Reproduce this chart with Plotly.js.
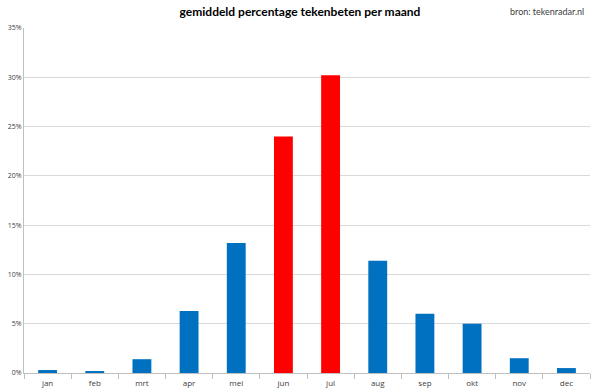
<!DOCTYPE html>
<html>
<head>
<meta charset="utf-8">
<script src="https://cdn.plot.ly/plotly-3.0.1.min.js"></script>
<style>html,body{margin:0;padding:0;background:#fff;}#chart{width:600px;height:391px;}</style>
</head>
<body>
<div id="chart"></div>
<script>
const months = ["jan","feb","mrt","apr","mei","jun","jul","aug","sep","okt","nov","dec"];
const percentages = [0.3, 0.2, 1.4, 6.3, 13.2, 24.0, 30.2, 11.4, 6.0, 5.0, 1.5, 0.5];
const barColors = ["#0070C0","#0070C0","#0070C0","#0070C0","#0070C0","#FF0000","#FF0000","#0070C0","#0070C0","#0070C0","#0070C0","#0070C0"];
const yTicks = [0,5,10,15,20,25,30,35];
const yTickLabels = ["0%","5%","10%","15%","20%","25%","30%","35%"];
const titleText = "gemiddeld percentage tekenbeten per maand";
const sourceText = "bron: tekenradar.nl";

const font = "Open Sans, Liberation Sans, sans-serif";
const titleFont = "Lato, Open Sans, sans-serif";

Plotly.newPlot("chart", [{
  type: "bar",
  x: months,
  y: percentages,
  marker: {color: barColors, line: {width: 0}},
  hoverinfo: "none"
}], {
  width: 600, height: 391,
  margin: {l: 24, r: 10, t: 28, b: 18},
  paper_bgcolor: "#fff", plot_bgcolor: "#fff",
  bargap: 0.6,
  showlegend: false,
  title: {text: "<b>" + titleText + "</b>", font: {family: titleFont, size: 12, color: "#000"}, x: 0.5, xanchor: "center", y: 0.97, yanchor: "middle"},
  font: {family: font, size: 8, color: "#595959"},
  xaxis: {
    type: "category",
    showline: true, linecolor: "#bfbfbf", linewidth: 1,
    ticks: "outside", tickson: "boundaries", ticklen: 5, tickcolor: "#bfbfbf",
    tickfont: {family: font, size: 8, color: "#404040"},
    ticklabelstandoff: 2,
    showgrid: false, fixedrange: true
  },
  yaxis: {
    range: [0, 35],
    tickvals: yTicks, ticktext: yTickLabels,
    showline: true, linecolor: "#bfbfbf", linewidth: 1,
    gridcolor: "#d9d9d9", gridwidth: 1,
    zeroline: false,
    ticks: "", ticklen: 0,
    tickfont: {family: font, size: 7, color: "#404040"},
    fixedrange: true
  },
  annotations: [{
    text: sourceText, xref: "paper", yref: "paper", x: 0.993, y: 1, yshift: 17,
    xanchor: "right", yanchor: "middle", showarrow: false,
    font: {family: titleFont, size: 9, color: "#404040"}
  }]
}, {displayModeBar: false, staticPlot: true});
</script>
</body>
</html>
